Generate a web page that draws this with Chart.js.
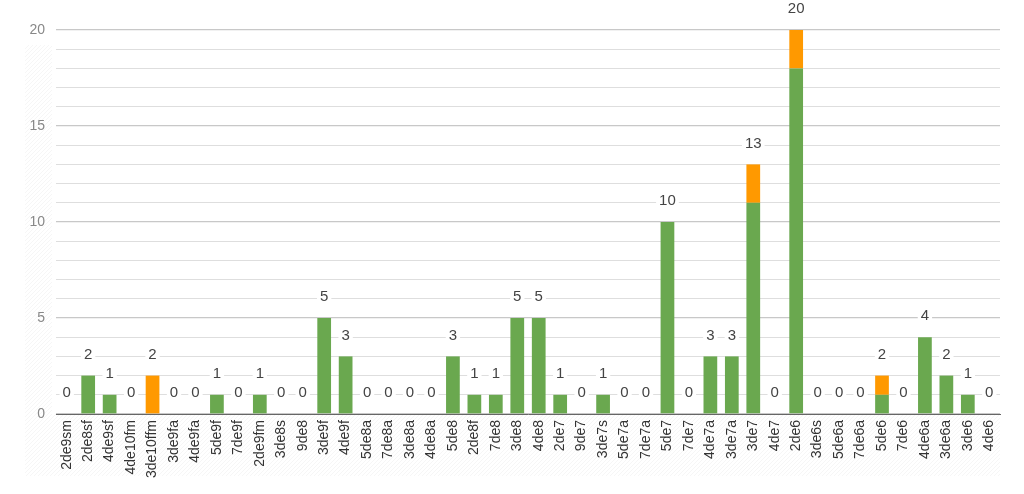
<!DOCTYPE html>
<html>
<head>
<meta charset="utf-8">
<script src="https://cdn.jsdelivr.net/npm/chart.js@4/dist/chart.umd.min.js"></script>
<style>
  html, body { margin: 0; padding: 0; background: #fff; }
  #wrap { width: 1024px; height: 494px; position: relative; }
</style>
</head>
<body>
<div id="wrap"><canvas id="myChart"></canvas></div>
<script>
// categories along the x axis
var labels = ['2de9sm','2de8sf','4de9sf','4de10fm','3de10ffm','3de9fa','4de9fa','5de9f','7de9f','2de9fm',
  '3de8s','9de8','3de9f','4de9f','5de8a','7de8a','3de8a','4de8a','5de8','2de8f',
  '7de8','3de8','4de8','2de7','9de7','3de7s','5de7a','7de7a','5de7','7de7',
  '4de7a','3de7a','3de7','4de7','2de6','3de6s','5de6a','7de6a','5de6','7de6',
  '4de6a','3de6a','3de6','4de6'];

// green part of each bar
var greenValues = [0,2,1,0,0,0,0,1,0,1,
  0,0,5,3,0,0,0,0,3,1,
  1,5,5,1,0,1,0,0,10,0,
  3,3,11,0,18,0,0,0,1,0,
  4,2,1,0];

// orange part of each bar
var orangeValues = [0,0,0,0,2,0,0,0,0,0,
  0,0,0,0,0,0,0,0,0,0,
  0,0,0,0,0,0,0,0,0,0,
  0,0,2,0,2,0,0,0,1,0,
  0,0,0,0];

var yTicks = [0, 5, 10, 15, 20];

// faint hatching behind the axis areas
var hatchBg = {
  id: 'hatchBg',
  beforeDraw: function(chart) {
    var c = chart.ctx, a = chart.chartArea;
    c.save();
    c.beginPath();
    c.rect(25, a.top + 15, a.left - 29, a.bottom - a.top + 2);
    c.rect(25, a.bottom, a.right - 25, 62);
    c.clip();
    c.strokeStyle = 'rgba(0,0,0,0.035)';
    c.lineWidth = 1;
    for (var i = -600; i < 1100; i += 4) {
      c.beginPath();
      c.moveTo(i, 494);
      c.lineTo(i + 494, 0);
      c.stroke();
    }
    c.restore();
  }
};

// total value above each stack
var totalLabels = {
  id: 'totalLabels',
  afterDatasetsDraw: function(chart) {
    var c = chart.ctx;
    var xs = chart.scales.x, ys = chart.scales.y;
    c.save();
    c.font = '15px "Liberation Sans", Arial, sans-serif';
    c.textAlign = 'center';
    c.textBaseline = 'middle';
    labels.forEach(function(lab, i) {
      var total = greenValues[i] + orangeValues[i];
      var x = xs.getPixelForValue(i);
      var y = ys.getPixelForValue(total) - 21;
      var txt = String(total);
      var w = c.measureText(txt).width;
      c.fillStyle = '#fff';
      c.fillRect(x - w / 2 - 3, y - 8, w + 6, 16);
      c.fillStyle = '#444';
      c.fillText(txt, x, y);
    });
    c.restore();
  }
};

var ctx = document.getElementById('myChart').getContext('2d');
var chart = new Chart(ctx, {
  type: 'bar',
  data: {
    labels: labels,
    datasets: [
      {
        label: 'green',
        backgroundColor: '#6aa84f',
        data: greenValues,
        barPercentage: 0.64,
        categoryPercentage: 1
      },
      {
        label: 'orange',
        backgroundColor: '#ff9900',
        data: orangeValues,
        barPercentage: 0.64,
        categoryPercentage: 1
      }
    ]
  },
  options: {
    responsive: true,
    maintainAspectRatio: false,
    animation: false,
    layout: { padding: { top: 30, right: 24, left: 3, bottom: 0 } },
    plugins: {
      legend: { display: false },
      tooltip: { enabled: false }
    },
    scales: {
      x: {
        stacked: true,
        afterFit: function(scale) { scale.height = 80; },
        grid: { display: false, drawTicks: false },
        border: { display: true, color: '#666', width: 1 },
        ticks: {
          minRotation: 90,
          maxRotation: 90,
          autoSkip: false,
          padding: 6,
          color: '#333',
          font: { family: '"Liberation Sans", Arial, sans-serif', size: 14 }
        }
      },
      y: {
        stacked: true,
        min: 0,
        max: 20,
        afterFit: function(scale) { scale.width = 53; },
        grid: {
          drawTicks: false,
          color: function(c) { return c.tick.value % 5 === 0 ? '#c8c8c8' : '#dedede'; },
          lineWidth: function(c) { return c.tick.value % 5 === 0 ? 1.3 : 1; }
        },
        border: { display: false },
        ticks: {
          stepSize: 1,
          autoSkip: false,
          padding: 11,
          color: '#888',
          font: { family: '"Liberation Sans", Arial, sans-serif', size: 14 },
          callback: function(v) { return yTicks.indexOf(v) >= 0 ? v : ''; }
        }
      }
    }
  },
  plugins: [hatchBg, totalLabels]
});
</script>
</body>
</html>
